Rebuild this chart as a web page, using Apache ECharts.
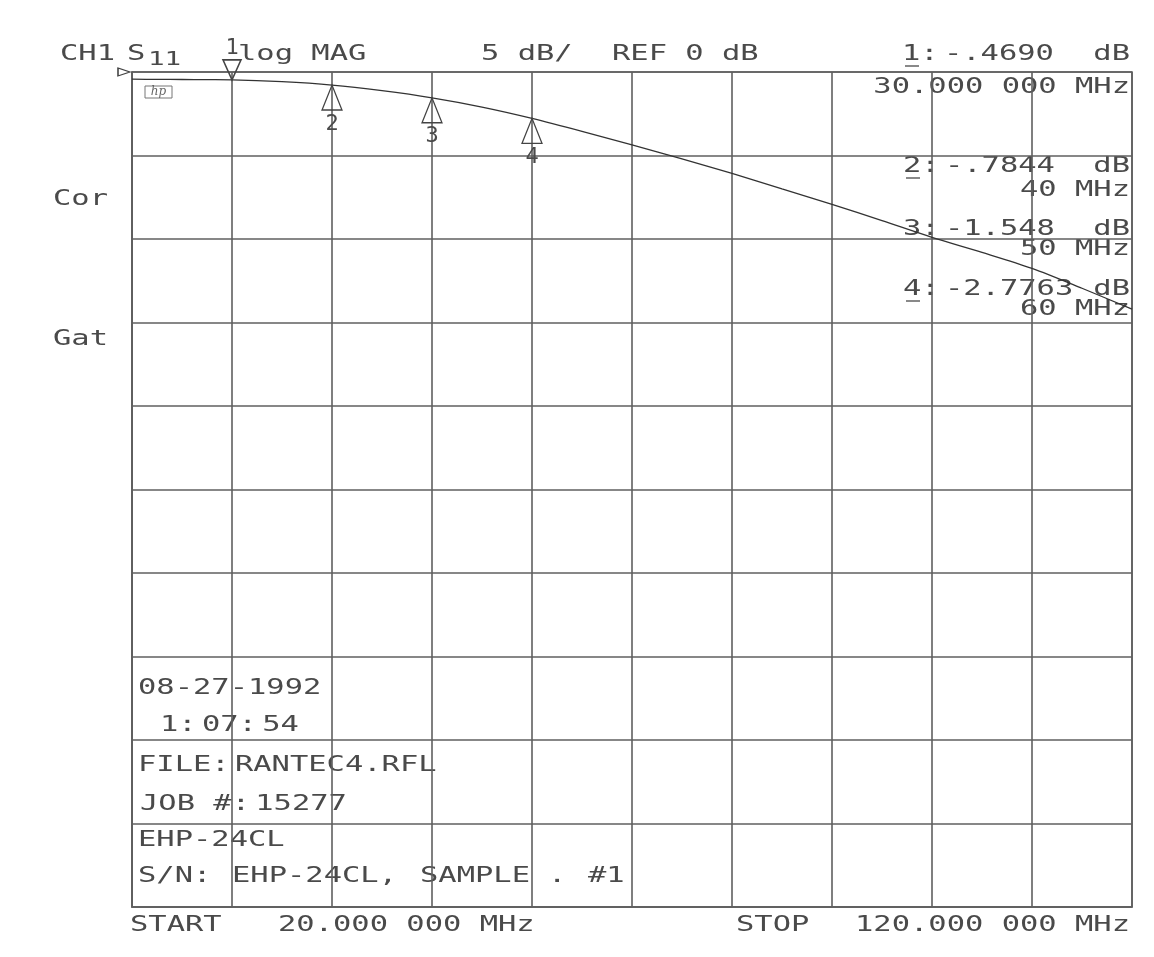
<!DOCTYPE html>
<html>
<head>
<meta charset="utf-8">
<title>CH1 S11 log MAG</title>
<script src="https://cdn.jsdelivr.net/npm/echarts@6/dist/echarts.min.js"></script>
<style>
  html, body { margin: 0; padding: 0; background: #ffffff; }
  #chart { width: 1154px; height: 957px; }
</style>
</head>
<body>
<div id="chart"></div>
<script>
// Swept reflection trace, 20–120 MHz, log magnitude in dB
const freqMHz = [20, 22.5, 25, 27.5, 30, 35, 40, 45, 50, 55, 60, 65, 70, 75, 80, 85, 90, 95, 100, 105, 110, 115, 120];
const s11dB   = [-0.43, -0.44, -0.45, -0.46, -0.469, -0.58, -0.7844, -1.12, -1.548, -2.10, -2.7763, -3.55, -4.37, -5.20, -6.07, -7.00, -7.92, -8.90, -9.90, -10.80, -11.76, -12.95, -14.20];

// Markers and their readouts
const markerNames   = ['1', '2', '3', '4'];
const markerFreqMHz = [30, 40, 50, 60];
const markerReadout = ['-.4690', '-.7844', '-1.548', '-2.7763'];
const markerFreqText = ['30.000 000 MHz', '40 MHz', '50 MHz', '60 MHz'];
const markerDb = markerReadout.map(Number);

// Axis span
const startMHz = 20, stopMHz = 120, mhzPerDiv = 10;
const refDb = 0, dbPerDiv = 5, divisions = 10;

const INK = '#4a4a4a';
const GRID = '#5f5f5f';
const FONT = '"DejaVu Sans Mono", "Liberation Mono", monospace';
const WIDE = 1.45;   // plotter lettering is wider than the screen font
const NARROW = '{s| }'; // thin gap used after a colon

function txt(text, x, y, align, size) {
  size = size || 21;
  return {
    type: 'text', x: x, y: y, scaleX: WIDE, silent: true,
    style: {
      text: text, fill: INK, font: size + 'px ' + FONT,
      textAlign: align || 'left', textVerticalAlign: 'middle',
      align: align || 'left', verticalAlign: 'middle',
      rich: { s: { fontSize: 6, fontFamily: FONT, fill: INK } }
    }
  };
}
function uline(x1, x2, y) {
  return { type: 'line', silent: true, shape: { x1: x1, y1: y, x2: x2, y2: y },
           style: { stroke: INK, lineWidth: 1.3 } };
}

const graphics = [
  // header
  txt('CH1', 60, 55),
  txt('S', 127, 55),
  txt('11', 148, 60, 'left', 19),
  txt('log MAG', 238, 55),
  txt(dbPerDiv + ' dB/', 481, 55),
  txt('REF ' + refDb + ' dB', 612, 55),
  // side annotations
  txt('Cor', 53, 200),
  txt('Gat', 53, 340),
  // hp badge
  { type: 'rect', silent: true, shape: { x: 145, y: 86, width: 27, height: 12 },
    style: { fill: 'none', stroke: '#777', lineWidth: 1 } },
  { type: 'text', x: 158.5, y: 92, silent: true,
    style: { text: 'hp', fill: '#666', font: 'italic 12px "DejaVu Serif", serif',
             textAlign: 'center', textVerticalAlign: 'middle', align: 'center', verticalAlign: 'middle' } },
  // footer block inside the graticule
  txt('08-27-1992', 138, 689),
  txt('1:' + NARROW + '07:' + NARROW + '54', 160, 726),
  txt('FILE:' + NARROW + 'RANTEC4.RFL', 138, 766),
  txt('JOB #:' + NARROW + '15277', 140, 805),
  txt('EHP-24CL', 138, 841),
  txt('S/N:', 138, 877), txt('EHP-24CL,', 232, 877), txt('SAMPLE', 420, 877),
  txt('.', 548, 877), txt('#1', 588, 877),
  // sweep limits
  txt('START', 130, 926),
  txt(startMHz + '.000 000 MHz', 278, 926),
  txt('STOP', 736, 926),
  txt(stopMHz + '.000 000 MHz', 1130, 926, 'right')
];

// marker readout block, right side
const readRows = [
  { y: 55,  fy: 88,  nx: 902 },
  { y: 167, fy: 191, nx: 903 },
  { y: 230, fy: 250, nx: 903 },
  { y: 290, fy: 310, nx: 903 }
];
readRows.forEach(function (r, i) {
  graphics.push(txt(markerNames[i] + ':' + NARROW + markerReadout[i], r.nx, r.y));
  graphics.push(txt('dB', 1130, r.y, 'right'));
  graphics.push(txt(markerFreqText[i], 1130, r.fy, 'right'));
  if (i !== 2) graphics.push(uline(r.nx + 3, r.nx + 17, r.y + 11));
});

const upTri = 'path://M10,0 L20,25 L0,25 Z';
const downTri = 'path://M0,0 L20,0 L10,20 Z';
const markStyle = { color: 'rgba(0,0,0,0)', borderColor: '#444', borderWidth: 1.3 };

const markData = markerNames.map(function (n, i) {
  const active = i === 0;
  return {
    name: n,
    coord: [markerFreqMHz[i], markerDb[i]],
    symbol: active ? downTri : upTri,
    symbolSize: active ? [18, 20] : [20, 25],
    symbolOffset: active ? [0, -10] : [0, 12.5],
    itemStyle: active ? { color: 'rgba(0,0,0,0)', borderColor: '#444', borderWidth: 1.6 } : markStyle,
    label: { show: true, formatter: '{b}', position: active ? 'top' : 'bottom',
             distance: active ? 0 : 2, color: INK, fontFamily: FONT, fontSize: 22 }
  };
});
// reference level pointer at the left edge
markData.push({
  name: 'ref', coord: [startMHz, refDb],
  symbol: 'path://M0,0 L12,5 L0,10 Z', symbolSize: [12, 8], symbolOffset: [-8, 0],
  itemStyle: markStyle, label: { show: false }
});

const chart = echarts.init(document.getElementById('chart'), null, { renderer: 'canvas' });
chart.setOption({
  backgroundColor: '#ffffff',
  animation: false,
  grid: { left: 132, top: 72, width: 1000, height: 835, show: true,
          borderColor: GRID, borderWidth: 1.6, backgroundColor: 'transparent' },
  xAxis: {
    type: 'value', min: startMHz, max: stopMHz, interval: mhzPerDiv,
    axisLine: { show: true, onZero: false, lineStyle: { color: GRID, width: 1.6 } },
    axisTick: { show: false }, axisLabel: { show: false },
    splitLine: { show: true, lineStyle: { color: GRID, width: 1.6 } }
  },
  yAxis: {
    type: 'value', min: refDb - dbPerDiv * divisions, max: refDb, interval: dbPerDiv,
    axisLine: { show: true, onZero: false, lineStyle: { color: GRID, width: 1.6 } },
    axisTick: { show: false }, axisLabel: { show: false },
    splitLine: { show: true, lineStyle: { color: GRID, width: 1.6 } }
  },
  series: [{
    type: 'line',
    data: freqMHz.map(function (f, i) { return [f, s11dB[i]]; }),
    showSymbol: false, smooth: 0.3, clip: false,
    lineStyle: { color: '#333', width: 1.3 },
    markPoint: { data: markData, animation: false }
  }],
  graphic: graphics
});
</script>
</body>
</html>
